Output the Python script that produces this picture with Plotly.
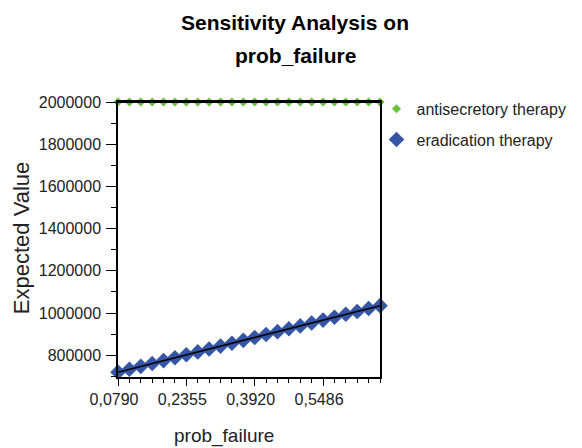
import plotly.graph_objects as go

prob_failure = [0.0790, 0.1051, 0.1312, 0.1573, 0.1833, 0.2094, 0.2355, 0.2616,
                0.2877, 0.3138, 0.3399, 0.3660, 0.3920, 0.4181, 0.4442, 0.4703,
                0.4964, 0.5225, 0.5486, 0.5747, 0.6007, 0.6268, 0.6529, 0.6790]
antisecretory = [2000000] * 24
eradication = [720000, 733700, 747400, 761100, 774800, 788500, 802200, 815900,
               829600, 843300, 857000, 870700, 884400, 898100, 911800, 925500,
               939200, 952900, 966600, 980300, 994000, 1007700, 1021400, 1035100]
x_tick_vals = [0.0790, 0.2355, 0.3920, 0.5486]
x_tick_text = ["0,0790", "0,2355", "0,3920", "0,5486"]
y_tick_vals = [800000, 1000000, 1200000, 1400000, 1600000, 1800000, 2000000]

GREEN = "#66C33A"
BLUE = "#3556A6"
FONT = "Liberation Sans, Arial, sans-serif"

# page body has an 8px margin: the figure is drawn at (8, 8) in the window
OFF = 8
W, H = 582 - OFF, 448 - OFF
PL, PR, PT, PB = 118, 380.5, 102, 377  # plot box in window pixels


def px(xw, yw):
    return (xw - PL) / (PR - PL), (PB - yw) / (PB - PT)


fig = go.Figure()
fig.add_trace(go.Scatter(x=prob_failure, y=antisecretory, mode="markers",
                         name="antisecretory therapy", legendgroup="a",
                         marker=dict(symbol="diamond", size=7, color=GREEN),
                         cliponaxis=False))
fig.add_trace(go.Scatter(x=prob_failure, y=antisecretory, mode="lines",
                         showlegend=False, line=dict(color="black", width=2),
                         cliponaxis=False, hoverinfo="skip"))
fig.add_trace(go.Scatter(x=prob_failure, y=eradication, mode="markers",
                         name="eradication therapy", legendgroup="b",
                         marker=dict(symbol="diamond", size=12, color=BLUE),
                         cliponaxis=False))
fig.add_trace(go.Scatter(x=prob_failure, y=eradication, mode="lines",
                         showlegend=False, line=dict(color="black", width=1.5),
                         cliponaxis=False, hoverinfo="skip"))

axis_common = dict(showline=True, linecolor="black", linewidth=1.5, mirror=True,
                   showgrid=False, zeroline=False, ticks="outside",
                   tickcolor="black", tickwidth=1,
                   tickfont=dict(family=FONT, size=16, color="#222222"))

fig.update_xaxes(range=[0.079, 0.679], tickmode="array", tickvals=x_tick_vals,
                 ticktext=x_tick_text, ticklen=7, ticklabelshift=-4,
                 ticklabelstandoff=0,
                 minor=dict(tickmode="array", tickvals=prob_failure, ticklen=4,
                            ticks="outside", tickcolor="black"),
                 **axis_common)
fig.update_yaxes(range=[697000, 2000000], tickmode="array", tickvals=y_tick_vals,
                 ticktext=[str(v) for v in y_tick_vals], ticklen=10,
                 ticklabelstandoff=2,
                 minor=dict(dtick=100000, tick0=0, ticklen=5, ticks="outside",
                            tickcolor="black"),
                 **axis_common)

t1 = px(295, 23)
t2 = px(296, 55)
yt = px(21, 238)
xt = px(224, 436)
lg = px(377, 0)

fig.update_layout(
    width=W, height=H,
    margin=dict(l=PL - OFF, r=W - (PR - OFF), t=PT - OFF, b=H - (PB - OFF),
                autoexpand=False),
    paper_bgcolor="white", plot_bgcolor="white",
    showlegend=True,
    legend=dict(x=lg[0], y=1.037, xanchor="left", yanchor="top",
                xref="paper", yref="paper", tracegroupgap=7,
                traceorder="grouped",
                font=dict(family=FONT, size=16, color="#222222"),
                bgcolor="rgba(0,0,0,0)", itemwidth=30),
    annotations=[
        dict(text="<b>Sensitivity Analysis on</b>", xref="paper", yref="paper",
             x=t1[0], y=t1[1], xanchor="center", yanchor="middle", showarrow=False,
             font=dict(family=FONT, size=21, color="black")),
        dict(text="<b>prob_failure</b>", xref="paper", yref="paper",
             x=t2[0], y=t2[1], xanchor="center", yanchor="middle", showarrow=False,
             font=dict(family=FONT, size=21, color="black")),
        dict(text="Expected Value", xref="paper", yref="paper",
             x=yt[0], y=yt[1], xanchor="center", yanchor="middle", showarrow=False,
             textangle=-90, font=dict(family=FONT, size=22, color="#222222")),
        dict(text="prob_failure", xref="paper", yref="paper",
             x=xt[0], y=xt[1], xanchor="center", yanchor="middle", showarrow=False,
             font=dict(family=FONT, size=19, color="#222222")),
    ],
)

fig.write_html("out.html")
